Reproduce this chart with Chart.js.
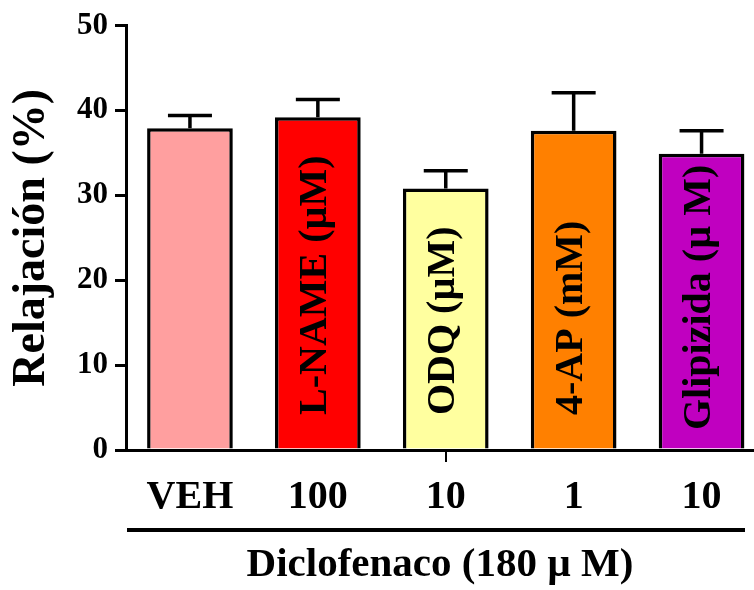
<!DOCTYPE html>
<html>
<head>
<meta charset="utf-8">
<script src="https://cdn.jsdelivr.net/npm/chart.js@4"></script>
<style>
  html, body { margin: 0; padding: 0; background: #fff; }
</style>
</head>
<body>
<canvas id="bar-chart" width="754" height="590"></canvas>
<script>
const categories = ["VEH", "100", "10", "1", "10"]
const values = [37.9, 39.2, 30.8, 37.6, 34.9]
const errors = [1.5, 2.1, 2.1, 4.5, 2.7]
const barNames = ["", "L-NAME (µM)", "ODQ (µM)", "4-AP (mM)", "Glipizida (µ M)"]
const barColors = ["#FF9F9F", "#FF0000", "#FFFF9F", "#FF8000", "#C000C0"]
const yTicks = [0, 10, 20, 30, 40, 50]

const serif = "'Liberation Serif', 'Times New Roman', serif"

// error bars, labels inside the bars, line under the x labels
const extras = {
  id: "extras",
  afterDatasetsDraw(chart) {
    const c = chart.ctx
    const x = chart.scales.x
    const y = chart.scales.y
    c.save()
    c.strokeStyle = "#000"
    c.lineWidth = 3.5
    c.lineCap = "butt"
    values.forEach((v, i) => {
      const px = x.getPixelForValue(i)
      const top = y.getPixelForValue(v)
      const end = y.getPixelForValue(v + errors[i])
      c.beginPath()
      c.moveTo(px, top)
      c.lineTo(px, end)
      c.moveTo(px - 22, end)
      c.lineTo(px + 22, end)
      c.stroke()
    })

    c.fillStyle = "#000"
    c.font = "bold 40px " + serif
    c.textBaseline = "middle"
    c.textAlign = "left"
    barNames.forEach((name, i) => {
      if (!name) return
      const px = x.getPixelForValue(i)
      const gap = i === 4 ? 20 : 35
      c.save()
      c.translate(px - 2, y.getPixelForValue(0) - gap)
      c.rotate(-Math.PI / 2)
      c.fillText(name, 0, 0)
      c.restore()
    })

    c.lineWidth = 4
    c.beginPath()
    c.moveTo(127, 530)
    c.lineTo(745, 530)
    c.stroke()
    c.restore()
  },
}

const ctx = document.getElementById("bar-chart")

const barChart = new Chart(ctx, {
  type: "bar",
  data: {
    datasets: [
      {
        data: values.map((v, i) => ({ x: i, y: v })),
        backgroundColor: barColors,
        borderColor: "#000",
        borderWidth: 3.5,
        categoryPercentage: 1,
        barPercentage: 0.67,
      },
    ],
  },
  options: {
    responsive: false,
    animation: false,
    layout: { padding: { top: 24, right: 0, bottom: 0, left: 0 } },
    plugins: { legend: { display: false }, tooltip: { enabled: false } },
    scales: {
      x: {
        type: "linear",
        offset: false,
        min: -0.5,
        max: 4.41,
        afterFit(scale) { scale.height = 140 },
        ticks: {
          stepSize: 1,
          includeBounds: false,
          autoSkip: false,
          maxRotation: 0,
          padding: 12,
          color: "#000",
          font: { family: serif, size: 40, weight: "bold" },
          callback: (v) => categories[v] ?? "",
        },
        grid: {
          offset: false,
          drawOnChartArea: false,
          tickLength: 12,
          lineWidth: 2,
          tickColor: (c) => (c.tick && c.tick.value === 2 ? "#000" : "rgba(0,0,0,0)"),
        },
        border: { color: "#000", width: 3 },
        title: {
          display: true,
          text: "Diclofenaco (180 µ M)",
          color: "#000",
          font: { family: serif, size: 41, weight: "bold" },
          padding: { top: 0, bottom: 0 },
        },
      },
      y: {
        min: 0,
        max: 50,
        afterFit(scale) { scale.width = 126 },
        afterBuildTicks(scale) { scale.ticks = yTicks.map((v) => ({ value: v })) },
        ticks: {
          padding: 7,
          color: "#000",
          font: { family: serif, size: 31, weight: "bold" },
        },
        grid: {
          drawOnChartArea: false,
          tickLength: 11,
          lineWidth: 3,
          tickColor: "#000",
        },
        border: { color: "#000", width: 3 },
        title: {
          display: true,
          text: "Relajación (%)",
          color: "#000",
          font: { family: serif, size: 46, weight: "bold" },
          padding: { top: 5, bottom: 0 },
        },
      },
    },
  },
  plugins: [extras],
})
</script>
</body>
</html>
